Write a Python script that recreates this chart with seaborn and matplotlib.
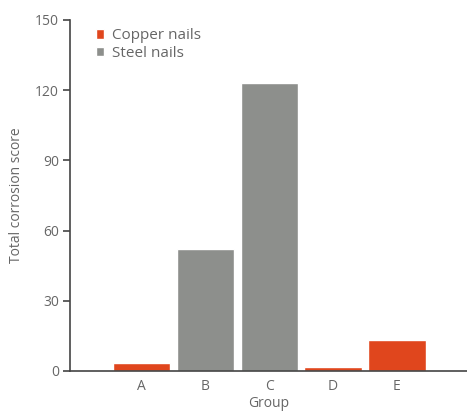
import matplotlib
matplotlib.use("Agg")
import matplotlib.pyplot as plt
import seaborn as sns
import pandas as pd

groups = ["A", "B", "C", "D", "E"]
scores = [3.5, 52, 123, 1.6, 13.3]
nail_type = ["Copper nails", "Steel nails", "Steel nails", "Copper nails", "Copper nails"]
y_ticks = [0, 30, 60, 90, 120, 150]

df = pd.DataFrame({"Group": groups, "Score": scores, "Type": nail_type})

sns.set_style("white")
plt.rcParams["font.family"] = ["Open Sans", "DejaVu Sans"]

fig = plt.figure(figsize=(4.67, 4.13), dpi=100)
ax = fig.add_axes([0.15, 0.1017, 0.85, 0.85])

palette = {"Copper nails": "#e0461d", "Steel nails": "#8d8f8c"}
sns.barplot(data=df, x="Group", y="Score", hue="Type", palette=palette,
            dodge=False, width=0.9, saturation=1, ax=ax,
            hue_order=["Copper nails", "Steel nails"])

ax.set_xlim(-1.125, 5.1)
ax.set_ylim(0, 150)
ax.set_yticks(y_ticks)
ax.tick_params(axis="y", direction="out", length=5, width=1.2, color="#444444",
               labelsize=10, labelcolor="#666666", pad=3, left=True)
ax.tick_params(axis="x", length=0, labelsize=10, labelcolor="#666666", pad=6)
for s in ["top", "right"]:
    ax.spines[s].set_visible(False)
for s in ["left", "bottom"]:
    ax.spines[s].set_color("#444444")
    ax.spines[s].set_linewidth(1.2)

ax.set_xlabel("Group", fontsize=10, color="#666666", labelpad=1)
ax.set_ylabel("Total corrosion score", fontsize=10, color="#666666", labelpad=8)

leg = ax.legend(loc="upper left", bbox_to_anchor=(0.03, 1.015), frameon=False,
                fontsize=11, handlelength=0.55, handleheight=0.55,
                handletextpad=0.5, labelspacing=0.15)
for t in leg.get_texts():
    t.set_color("#666666")

fig.savefig("out.png", dpi=100)
